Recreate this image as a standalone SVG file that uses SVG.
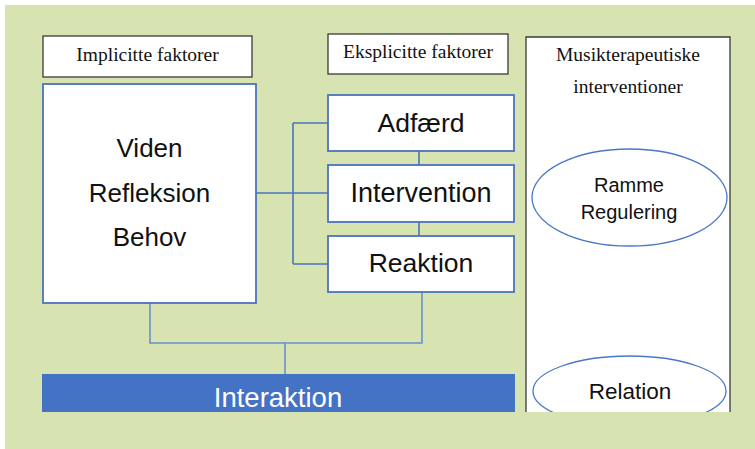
<svg xmlns="http://www.w3.org/2000/svg" width="755" height="449" viewBox="0 0 755 449">
<style>
.bg{fill:#D7E4B1}
.lbl{fill:#fff;stroke:#3a3a3a;stroke-width:1.3}
.bx{fill:#fff;stroke:#4A73BE;stroke-width:1.8}
.ser{font-family:"Liberation Serif","Times New Roman",serif;font-size:19.5px;fill:#111;text-anchor:middle}
.san{font-family:"Liberation Sans",Arial,sans-serif;fill:#111;text-anchor:middle}
.conn{fill:none;stroke:#4A73BE;stroke-width:1.6}
.conn2{fill:none;stroke:#6A8FCE;stroke-width:1.6}
.ell{fill:#fff;stroke:#4A78C8;stroke-width:1.3}
</style>
<defs>
<clipPath id="musclip"><rect x="520" y="30" width="220" height="382"/></clipPath>
</defs>
<rect x="0" y="0" width="755" height="449" fill="#fff"/>
<rect class="bg" x="5" y="5" width="750" height="444"/>
<g id="connectors">
<path class="conn" d="M256 193 H293 M293 123 V264 M293 123 H328 M293 193 H328 M293 264 H328 M419 151 V165 M419 222 V236"/>
<path class="conn2" d="M422 292 V343 H150 V301 M285 343 V374"/>
</g>
<g id="implicitte-label">
<rect class="lbl" x="43" y="36" width="209" height="41"/>
<text class="ser" x="147.5" y="61">Implicitte faktorer</text>
</g>
<g id="implicitte">
<rect class="bx" x="43" y="84" width="213" height="219"/>
<text class="san" font-size="26" x="149.5" y="157">Viden</text>
<text class="san" font-size="26" x="149.5" y="202">Refleksion</text>
<text class="san" font-size="26" x="149.5" y="246">Behov</text>
</g>
<g id="eksplicitte-label">
<rect class="lbl" x="328" y="34" width="180" height="40"/>
<text class="ser" x="418" y="58">Eksplicitte faktorer</text>
</g>
<g id="adfaerd">
<rect class="bx" x="328" y="95" width="186" height="56"/>
<text class="san" font-size="26.5" x="421" y="132">Adfærd</text>
</g>
<g id="intervention">
<rect class="bx" x="328" y="165" width="186" height="57"/>
<text class="san" font-size="27" x="421" y="202">Intervention</text>
</g>
<g id="reaktion">
<rect class="bx" x="328" y="236" width="186" height="56"/>
<text class="san" font-size="26.5" x="421" y="272">Reaktion</text>
</g>
<g id="interaktion">
<rect x="42" y="374" width="473" height="38" fill="#4472C4"/>
<text class="san" font-size="27.5" x="278" y="407" style="fill:#fff">Interaktion</text>
</g>
<g id="musikterapeutiske">
<path d="M526 412 V37 H730 V412" fill="#fff" stroke="#3a3a3a" stroke-width="1.3"/>
<text class="ser" x="628" y="61">Musikterapeutiske</text>
<text class="ser" x="628" y="93">interventioner</text>
</g>
<g id="ramme">
<ellipse class="ell" cx="629.5" cy="197.5" rx="97.5" ry="48.5"/>
<text class="san" font-size="20" x="629" y="192">Ramme</text>
<text class="san" font-size="20" x="629" y="219">Regulering</text>
</g>
<g id="relation" clip-path="url(#musclip)">
<ellipse class="ell" cx="629.5" cy="391" rx="96.5" ry="35"/>
<text class="san" font-size="22.5" x="630" y="399">Relation</text>
</g>
</svg>
